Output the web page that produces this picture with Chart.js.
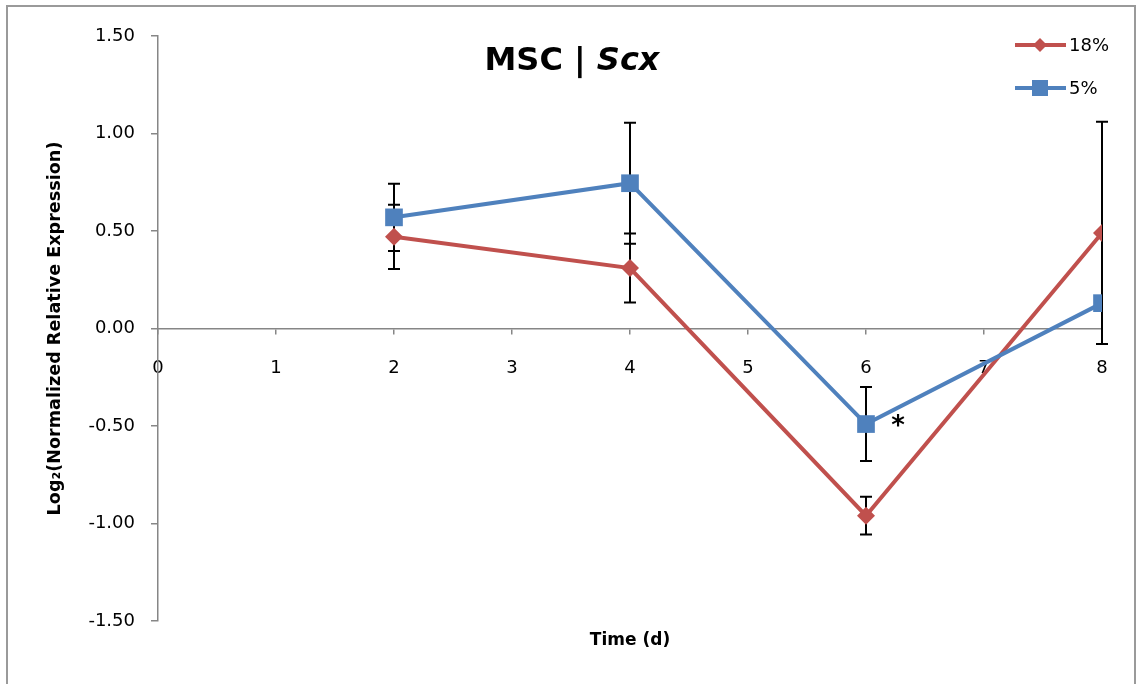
<!DOCTYPE html>
<html>
<head>
<meta charset="utf-8">
<script src="https://cdn.jsdelivr.net/npm/chart.js@4/dist/chart.umd.min.js"></script>
<style>
  html, body { margin: 0; padding: 0; background: #ffffff; }
  #wrap { width: 1141px; height: 684px; position: relative; }
</style>
</head>
<body>
<div id="wrap"><canvas id="c" width="1141" height="684"></canvas></div>
<script>
// Time points (days) and log2 normalized relative expression of Scx in MSCs
const days = [2, 4, 6, 8];
const seriesLabels = ['18%', '5%'];
const o2_18 = [0.47, 0.31, -0.96, 0.49];
const o2_18Err = [0.165, 0.177, 0.097, 0.57];
const o2_5 = [0.57, 0.745, -0.49, 0.13];
const o2_5Err = [0.172, 0.31, 0.19, 0];
const xTicks = [0, 1, 2, 3, 4, 5, 6, 7, 8];
const yTicks = [-1.5, -1.0, -0.5, 0.0, 0.5, 1.0, 1.5];
// significance marker: day 6, 5% series
const sigDay = 6;

const RED = '#C0504D';
const BLUE = '#4F81BD';
const AXIS = '#868686';
const FONT = "'DejaVu Sans', sans-serif";

const toPoints = (ys) => days.map((d, i) => ({ x: d, y: ys[i] }));

// Vertical error bars with caps, drawn through the chart scales
const errorBars = {
  id: 'errorBars',
  beforeDatasetsDraw(chart) {
    const { ctx, scales: { x, y } } = chart;
    const errs = [o2_18Err, o2_5Err];
    ctx.save();
    ctx.strokeStyle = '#000000';
    ctx.lineWidth = 2;
    chart.data.datasets.forEach((ds, di) => {
      ds.data.forEach((p, i) => {
        const e = errs[di][i];
        if (!e) return;
        const px = x.getPixelForValue(p.x);
        const top = y.getPixelForValue(p.y + e);
        const bot = y.getPixelForValue(p.y - e);
        ctx.beginPath();
        ctx.moveTo(px, top); ctx.lineTo(px, bot);
        ctx.moveTo(px - 6, top); ctx.lineTo(px + 6, top);
        ctx.moveTo(px - 6, bot); ctx.lineTo(px + 6, bot);
        ctx.stroke();
      });
    });
    ctx.restore();
  }
};

// Frame, title, legend and significance asterisk
const decorations = {
  id: 'decorations',
  beforeDraw(chart) {
    const { ctx } = chart;
    ctx.save();
    ctx.fillStyle = '#ffffff';
    ctx.fillRect(0, 0, chart.width, chart.height);
    ctx.strokeStyle = '#9a9a9a';
    ctx.lineWidth = 2;
    ctx.strokeRect(7, 6, 1128, 700);
    ctx.restore();
  },
  afterDraw(chart) {
    const { ctx, scales: { x, y } } = chart;
    ctx.save();
    // title: "MSC | " bold + "Scx" bold italic
    ctx.fillStyle = '#000000';
    ctx.textBaseline = 'alphabetic';
    const part1 = 'MSC | ';
    const part2 = 'Scx';
    const f1 = "bold 32px " + FONT;
    const f2 = "italic bold 32px " + FONT;
    ctx.font = f1; const w1 = ctx.measureText(part1).width;
    ctx.font = f2; const w2 = ctx.measureText(part2).width;
    const tx = 572 - (w1 + w2) / 2;
    ctx.font = f1; ctx.fillText(part1, tx, 70);
    ctx.font = f2; ctx.fillText(part2, tx + w1, 70);

    // legend
    const items = [
      { label: seriesLabels[0], color: RED, style: 'diamond', y: 45 },
      { label: seriesLabels[1], color: BLUE, style: 'square', y: 88 }
    ];
    items.forEach(it => {
      ctx.strokeStyle = it.color;
      ctx.lineWidth = 4;
      ctx.beginPath();
      ctx.moveTo(1015, it.y); ctx.lineTo(1066, it.y);
      ctx.stroke();
      ctx.fillStyle = it.color;
      ctx.beginPath();
      if (it.style === 'diamond') {
        ctx.moveTo(1040, it.y - 7); ctx.lineTo(1047, it.y);
        ctx.lineTo(1040, it.y + 7); ctx.lineTo(1033, it.y);
        ctx.closePath();
      } else {
        ctx.rect(1032, it.y - 8, 16, 16);
      }
      ctx.fill();
      ctx.fillStyle = '#000000';
      ctx.font = "18px " + FONT;
      ctx.textBaseline = 'middle';
      ctx.textAlign = 'left';
      ctx.fillText(it.label, 1069, it.y + 1);
    });

    // asterisk beside the day-6 point of the 5% series
    const sx = x.getPixelForValue(sigDay);
    const sy = y.getPixelForValue(o2_5[days.indexOf(sigDay)]);
    ctx.font = "bold 26px " + FONT;
    ctx.textAlign = 'center';
    ctx.textBaseline = 'middle';
    ctx.fillText('*', sx + 32, sy + 3);
    ctx.restore();
  }
};

new Chart(document.getElementById('c'), {
  type: 'line',
  data: {
    datasets: [
      {
        label: seriesLabels[0],
        data: toPoints(o2_18),
        borderColor: RED,
        backgroundColor: RED,
        borderWidth: 4,
        pointStyle: 'rectRot',
        pointRadius: 9,
        pointBorderWidth: 0,
        pointHoverRadius: 9,
        order: 1,
        tension: 0
      },
      {
        label: seriesLabels[1],
        data: toPoints(o2_5),
        borderColor: BLUE,
        backgroundColor: BLUE,
        borderWidth: 4,
        pointStyle: 'rect',
        pointRadius: 12.5,
        pointBorderWidth: 0,
        pointHoverRadius: 12.5,
        order: 0,
        tension: 0
      }
    ]
  },
  options: {
    responsive: false,
    animation: false,
    devicePixelRatio: 1,
    layout: { padding: { top: 36, right: 39, left: 0, bottom: 0 } },
    plugins: {
      legend: { display: false },
      title: { display: false },
      tooltip: { enabled: false }
    },
    scales: {
      x: {
        type: 'linear',
        position: { y: 0 },
        min: 0, max: 8,
        afterBuildTicks: (s) => { s.ticks = xTicks.map(v => ({ value: v })); },
        ticks: {
          color: '#000000',
          font: { family: FONT, size: 18 },
          padding: 24,
          maxRotation: 0,
          callback: (v) => String(v)
        },
        grid: { drawOnChartArea: false, drawTicks: true, tickLength: 5, color: AXIS, lineWidth: 1.5 },
        border: { display: true, color: AXIS, width: 1.5 }
      },
      x2: {
        type: 'linear',
        axis: 'x',
        position: 'bottom',
        min: 0, max: 8,
        ticks: { display: false },
        grid: { display: false },
        border: { display: false },
        title: {
          display: true,
          text: 'Time (d)',
          color: '#000000',
          font: { family: FONT, size: 17, weight: 'bold' },
          padding: { top: 0, bottom: 33 }
        },
        afterFit: (s) => { s.height = 63; }
      },
      y: {
        type: 'linear',
        position: 'left',
        min: -1.5, max: 1.5,
        afterBuildTicks: (s) => { s.ticks = yTicks.map(v => ({ value: v })); },
        ticks: {
          color: '#000000',
          font: { family: FONT, size: 18 },
          padding: 16,
          callback: (v) => Number(v).toFixed(2)
        },
        grid: { drawOnChartArea: false, drawTicks: true, tickLength: 7, color: AXIS, lineWidth: 1.5 },
        border: { display: true, color: AXIS, width: 1.5 },
        title: {
          display: true,
          text: 'Log₂(Normalized Relative Expression)',
          color: '#000000',
          font: { family: FONT, size: 17.6, weight: 'bold' },
          padding: { top: 45, bottom: 0 }
        },
        afterFit: (s) => { s.width = 158; }
      }
    }
  },
  plugins: [decorations, errorBars]
});
</script>
</body>
</html>
